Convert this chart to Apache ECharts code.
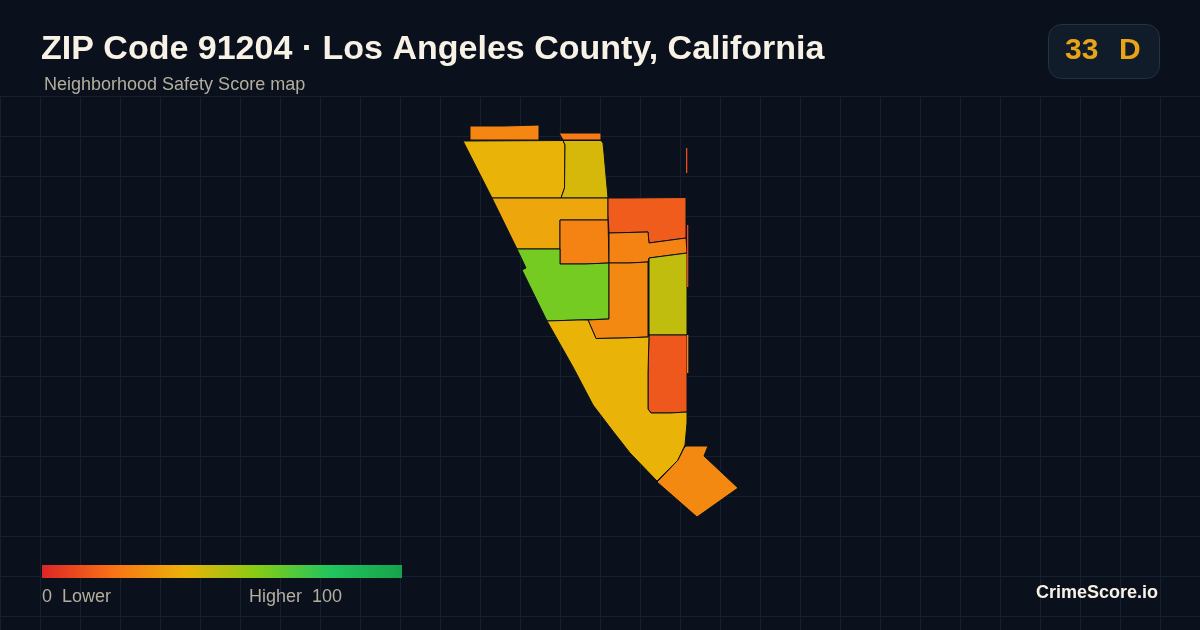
<!DOCTYPE html>
<html><head><meta charset="utf-8">
<style>html,body{margin:0;padding:0;background:#0a111c}#c{width:1200px;height:630px}</style>
<script src="https://cdn.jsdelivr.net/npm/echarts@6/dist/echarts.min.js"></script>
</head><body><div id="c"></div>
<script>
const titleText = 'ZIP Code 91204 · Los Angeles County, California';
const subtitleText = 'Neighborhood Safety Score map';
const badgeScore = '33';
const badgeGrade = 'D';
const legendLow = '0  Lower';
const legendHigh = 'Higher  100';
const brand = 'CrimeScore.io';
const legendColors = ['#dc2626','#f97316','#eab308','#84cc16','#22c55e','#16a34a'];

const regionNames = ['a','b','c','d','e','f','g','h','i','j','k','l','m','n','o','p','r'];
const regionScores = [26,22,40,44,36,25,63,14,25,27,48,13,40,27,10,8,26];
const slivers = ['o','p','r'];
const a = [[470,126],[504,126],[504,125],[539,125],[539,140],[470,140]];
const b = [[559,133],[601,133],[601,140],[563,140]];
const c = [[463,141],[563,140.5],[565,145],[564.5,188],[561,198],[492,198]];
const d = [[563,140.5],[601,140.5],[603,143],[604,153],[608,198],[561,198],[564.5,188],[565,145]];
const e = [[492,198],[608,198],[608,220],[560,220],[560,249],[517,249]];
const f = [[560,220],[608,220],[609,263],[585,264],[560,264]];
const g = [[517,249],[560,249],[560,264],[585,264],[609,263],[609,319],[578,320],[547,321],[522,270],[526,268]];
const h = [[608,198],[626,198],[626,197.5],[686,197.5],[686,238],[649,243],[648,232],[609,233],[608,215]];
const i = [[609,233],[648,232],[649,243],[686,238],[687,253],[649,258],[648,262],[629,263],[609,263]];
const j = [[609,263],[629,263],[648,262],[648,337],[623,338],[596,338.5],[588,320],[609,319]];
const k = [[649,258],[687,253],[687,335],[649,335]];
const l = [[649,335],[687,335],[687,412],[670,413],[651,413],[648,409],[648,373]];
const m = [[547,321],[578,320],[588,320],[596,338.5],[623,338],[648,337],[649,335],[648,373],[648,409],[651,413],[670,413],[687,412],[687,423],[685,445],[678,460],[657,481],[630,453],[612,430],[593,405],[573,367]];
const n = [[686,446],[708,446],[704,456],[738,488],[697,517],[657,482],[678,460],[684,448]];
const o = [[686,148],[687.3,148],[687.3,173],[686,173]];
const p = [[687,225],[688.3,225],[688.3,287],[687,287]];
const r = [[687,335],[688.3,335],[688.3,373],[687,373]];
const regionShapes = [a,b,c,d,e,f,g,h,i,j,k,l,m,n,o,p,r];

const geoJson = {type:'FeatureCollection',features:regionNames.map((name,idx)=>({
  type:'Feature',properties:{name},
  geometry:{type:'Polygon',coordinates:[regionShapes[idx].concat([regionShapes[idx][0]]).map(pt=>[pt[0],-pt[1]])]}
}))};
echarts.registerMap('zip91204',geoJson);

const chart = echarts.init(document.getElementById('c'),null,{renderer:'canvas'});
const font = '"Liberation Sans",Arial,sans-serif';
chart.setOption({
  animation:false,
  backgroundColor:'#0a111c',
  grid:{left:0,right:0,top:96,bottom:0,containLabel:false},
  xAxis:{type:'value',min:0,max:1200,interval:40,axisLine:{show:false},axisTick:{show:false},axisLabel:{show:false},splitLine:{show:true,lineStyle:{color:'#142230',width:1}}},
  yAxis:{type:'value',min:0,max:534,interval:40,inverse:true,axisLine:{show:false},axisTick:{show:false},axisLabel:{show:false},splitLine:{show:true,lineStyle:{color:'#142230',width:1}}},
  title:[
    {text:titleText,left:41,top:33,padding:0,textStyle:{fontFamily:font,fontSize:34,fontWeight:'bold',color:'#f8f1e6'}},
    {text:subtitleText,left:44,top:76,padding:0,textStyle:{fontFamily:font,fontSize:18,fontWeight:'normal',color:'#b4ae9f'}}
  ],
  visualMap:{type:'continuous',show:false,min:0,max:100,seriesIndex:0,inRange:{color:legendColors}},
  series:[{type:'map',map:'zip91204',aspectScale:1,left:463,top:125,width:275,height:392,roam:false,silent:true,
    label:{show:false},emphasis:{disabled:true},select:{disabled:true},
    itemStyle:{borderColor:'#0a111c',borderWidth:1},
    data:regionNames.map((name,idx)=>({name,value:regionScores[idx],
      itemStyle:slivers.includes(name)?{borderWidth:0}:undefined}))}],
  graphic:[
    {type:'rect',z:100,left:42,top:565,shape:{width:360,height:13},style:{fill:new echarts.graphic.LinearGradient(0,0,1,0,legendColors.map((color,idx)=>({offset:idx/(legendColors.length-1),color})))}},
    {type:'rect',z:100,left:1048,top:24,shape:{width:111,height:54,r:13},style:{fill:'#111c2b',stroke:'#253240',lineWidth:1}},
    {type:'text',z:101,left:1065,top:36,style:{text:badgeScore,fontFamily:font,fontSize:30,fontWeight:'bold',fill:'#e8a317'}},
    {type:'text',z:101,left:1119,top:36,style:{text:badgeGrade,fontFamily:font,fontSize:30,fontWeight:'bold',fill:'#e8a317'}},
    {type:'text',z:101,left:42,top:588,style:{text:legendLow,fontFamily:font,fontSize:18,fill:'#b4ae9f'}},
    {type:'text',z:101,left:249,top:588,style:{text:legendHigh,fontFamily:font,fontSize:18,fill:'#b4ae9f'}},
    {type:'text',z:101,right:42,top:584,style:{text:brand,fontFamily:font,fontSize:18,fontWeight:'bold',fill:'#f8f1e6'}}
  ]
});
</script></body></html>
